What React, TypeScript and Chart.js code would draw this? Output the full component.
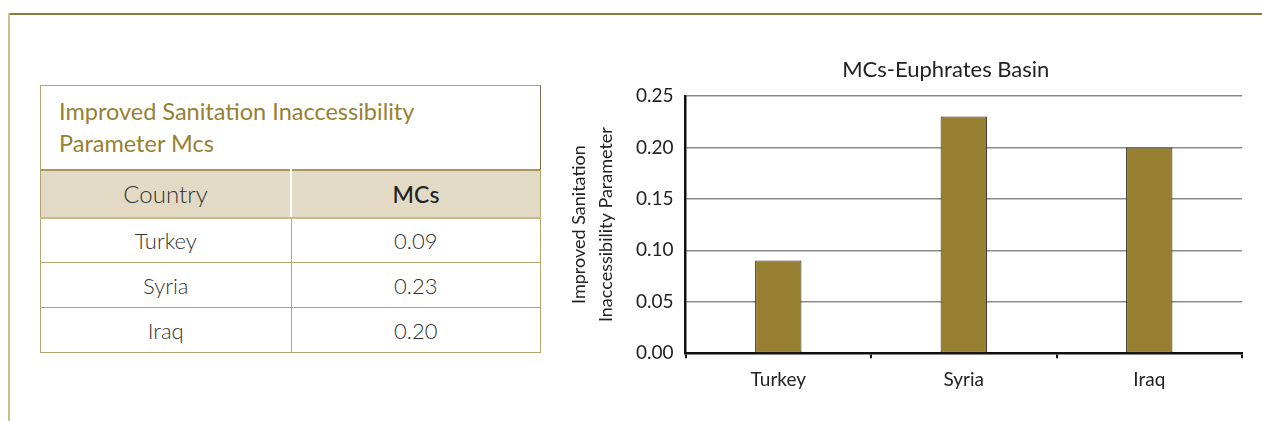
import React, { useEffect, useRef } from "react";
import { Chart, registerables } from "chart.js";

Chart.register(...registerables);

const countries = ["Turkey", "Syria", "Iraq"];
const mcsValues = [0.09, 0.23, 0.2];
const tableValues = ["0.09", "0.23", "0.20"];
const chartTitle = "MCs-Euphrates Basin";
const yAxisTitle = ["Improved Sanitation", "Inaccessibility Parameter"];
const tableTitle = ["Improved Sanitation Inaccessibility", "Parameter Mcs"];
const tableHeaders = ["Country", "MCs"];

const FONT = "Lato, 'Open Sans', sans-serif";
const OLIVE = "#978032";
const BORDER = "#b3a56e";

const titlePlugin = {
  id: "customTitle",
  afterDraw(chart: any) {
    const { ctx, chartArea } = chart;
    ctx.save();
    ctx.font = `400 22px ${FONT}`;
    ctx.fillStyle = "#222";
    ctx.textAlign = "center";
    ctx.textBaseline = "middle";
    const cx = (chartArea.left + chartArea.right) / 2 - 18;
    ctx.fillText(chartTitle, cx, chartArea.top - 26);
    ctx.restore();
  },
};

function BarChart() {
  const ref = useRef<HTMLCanvasElement>(null);
  useEffect(() => {
    if (!ref.current) return;
    const chart = new Chart(ref.current, {
      type: "bar",
      data: {
        labels: countries,
        datasets: [
          {
            data: mcsValues,
            backgroundColor: OLIVE,
            borderColor: "#2e2a1c",
            borderWidth: 1,
            borderSkipped: false,
            barPercentage: 0.25,
            categoryPercentage: 1,
          },
        ],
      },
      options: {
        animation: false,
        responsive: false,
        maintainAspectRatio: false,
        layout: { padding: { top: 56, right: 20, left: 6, bottom: 20 } },
        plugins: {
          legend: { display: false },
          tooltip: { enabled: false },
          title: { display: false },
        },
        scales: {
          x: {
            offset: true,
            grid: {
              offset: true,
              drawOnChartArea: false,
              drawTicks: true,
              tickLength: 5,
              color: "#111",
              lineWidth: 2,
            },
            border: { display: true, color: "#111", width: 2.5 },
            ticks: {
              color: "#222",
              font: { family: FONT, size: 19 },
              padding: 10,
            },
          },
          y: {
            min: 0,
            max: 0.25,
            ticks: {
              stepSize: 0.05,
              color: "#222",
              font: { family: FONT, size: 19 },
              padding: 12,
              callback: (v: any) => Number(v).toFixed(2),
            },
            grid: {
              color: "#8a8a8a",
              lineWidth: 1.5,
              drawTicks: false,
            },
            border: { display: true, color: "#111", width: 2.5 },
            title: {
              display: true,
              text: yAxisTitle,
              color: "#222",
              font: { family: FONT, size: 18, lineHeight: 1.5 },
              padding: { top: 0, bottom: 4 },
            },
          },
        },
      },
      plugins: [titlePlugin],
    });
    return () => chart.destroy();
  }, []);
  return <canvas ref={ref} width={702} height={381} style={{ position: "absolute", left: 560, top: 40 }} />;
}

const cellBase: React.CSSProperties = {
  fontFamily: FONT,
  fontWeight: 300,
  fontSize: 22,
  color: "#333",
  textAlign: "center",
  padding: 0,
};

export default function App() {
  return (
    <div style={{ position: "absolute", left: 0, top: 0, width: 1262, height: 421, background: "#fff", overflow: "hidden" }}>
      <div style={{ position: "absolute", left: 8, top: 13, right: 0, height: 2, background: "#8c7a3c" }} />
      <div style={{ position: "absolute", left: 8, top: 13, bottom: 0, width: 2, background: "#cbbd8c" }} />
      <table
        style={{
          position: "absolute",
          left: 40,
          top: 85,
          width: 501,
          borderCollapse: "collapse",
          border: `1.5px solid ${BORDER}`,
        }}
      >
        <tbody>
          <tr style={{ height: 84 }}>
            <td
              colSpan={2}
              style={{
                fontFamily: FONT,
                fontSize: 23.5,
                fontWeight: 400,
                color: OLIVE,
                lineHeight: "32px",
                padding: "0 0 0 18px",
                textAlign: "left",
                borderRight: "1.5px solid #8a6a48",
              }}
            >
              {tableTitle[0]}
              <br />
              {tableTitle[1]}
            </td>
          </tr>
          <tr style={{ height: 48, background: "#e2dac4" }}>
            <td style={{ ...cellBase, fontSize: 24, width: 249, borderTop: "2px solid #a8975c", borderBottom: "2px solid #c6b98a", borderRight: "2px solid #fff" }}>
              {tableHeaders[0]}
            </td>
            <td style={{ ...cellBase, fontSize: 23, fontWeight: 500, color: "#222", borderTop: "2px solid #a8975c", borderBottom: "2px solid #c6b98a" }}>
              {tableHeaders[1]}
            </td>
          </tr>
          {countries.map((c, i) => (
            <tr key={c} style={{ height: 45 }}>
              <td style={{ ...cellBase, borderRight: `1.5px solid ${BORDER}`, borderBottom: `1.5px solid ${BORDER}` }}>{c}</td>
              <td style={{ ...cellBase, borderBottom: `1.5px solid ${BORDER}` }}>{tableValues[i]}</td>
            </tr>
          ))}
        </tbody>
      </table>
      <BarChart />
    </div>
  );
}
